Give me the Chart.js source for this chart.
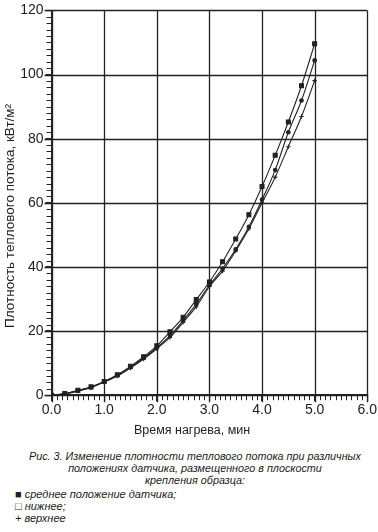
<!DOCTYPE html>
<html>
<head>
<meta charset="utf-8">
<script src="https://cdn.jsdelivr.net/npm/chart.js@4.4.0/dist/chart.umd.min.js"></script>
<style>
  body { margin: 0; background: #fff; font-family: "Liberation Sans", Arial, sans-serif; color: #222; }
  #wrap { position: relative; width: 378px; height: 440px; }
  #caption { position: absolute; left: 6px; top: 450px; width: 378px; text-align: center; font-style: italic; font-size: 10.8px; line-height: 12px; }
  #legend { position: absolute; left: 15px; top: 488px; font-style: italic; font-size: 11px; line-height: 12px; }
</style>
</head>
<body>
<div id="wrap"><canvas id="heatChart"></canvas></div>
<div id="caption">Рис. 3. Изменение плотности теплового потока при различных<br>положениях датчика, размещенного в плоскости<br>крепления образца:</div>
<div id="legend">&#9632; среднее положение датчика;<br>&#9633; нижнее;<br>+ верхнее</div>
<script>
// время нагрева, мин
var times = [0, 0.25, 0.5, 0.75, 1.0, 1.25, 1.5, 1.75, 2.0, 2.25, 2.5, 2.75, 3.0, 3.25, 3.5, 3.75, 4.0, 4.25, 4.5, 4.75, 5.0];
// плотность теплового потока, кВт/м2
var nizhnee  = [0, 0.5, 1.5, 2.6, 4.3, 6.4, 9.0, 12.0, 15.4, 19.8, 24.3, 29.8, 35.3, 41.6, 48.7, 56.3, 65.1, 74.8, 85.2, 96.5, 109.6];
var srednee  = [0, 0.4, 1.4, 2.5, 4.2, 6.2, 8.7, 11.6, 14.8, 18.6, 23.3, 28.4, 34.3, 39.5, 45.5, 52.5, 61.0, 70.2, 82.0, 91.9, 104.4];
var verhnee  = [0, 0.4, 1.3, 2.4, 4.1, 6.0, 8.5, 11.3, 14.5, 18.0, 22.7, 27.6, 33.9, 38.7, 45.0, 51.9, 60.0, 68.0, 77.5, 86.9, 98.1];

var xStep = 1, xMinor = 0.1;
var yStep = 20, yMinor = 2;

function pts(ys) {
  return times.map(function (t, i) { return { x: t, y: ys[i] }; });
}

var ink = '#222';

// сетка и мелкие засечки (шаг 0.1 мин и 2 кВт/м2)
var gridAndTicks = {
  id: 'gridAndTicks',
  beforeDatasetsDraw: function (chart) {
    var c = chart.ctx, xs = chart.scales.x, ys = chart.scales.y;
    var len = 5, v, p;
    c.save();
    c.strokeStyle = ink;
    c.lineWidth = 1.3;
    c.beginPath();
    for (v = xs.min; v <= xs.max + 1e-9; v += xStep) {
      p = Math.round(xs.getPixelForValue(v)) + 0.5;
      c.moveTo(p, ys.top);
      c.lineTo(p, ys.bottom + 7);
    }
    for (v = ys.min; v <= ys.max + 1e-9; v += yStep) {
      p = Math.round(ys.getPixelForValue(v)) + 0.5;
      c.moveTo(xs.left - 7, p);
      c.lineTo(xs.right, p);
    }
    c.stroke();
    c.lineWidth = 1;
    c.beginPath();
    for (v = xs.min; v <= xs.max + 1e-9; v += xMinor) {
      p = Math.round(xs.getPixelForValue(v)) + 0.5;
      c.moveTo(p, ys.bottom);
      c.lineTo(p, ys.bottom + len);
    }
    for (v = ys.min; v <= ys.max + 1e-9; v += yMinor) {
      p = Math.round(ys.getPixelForValue(v)) + 0.5;
      c.moveTo(xs.left - len, p);
      c.lineTo(xs.left, p);
    }
    c.stroke();
    c.restore();
  }
};

var ctx = document.getElementById('heatChart');
var heatChart = new Chart(ctx, {
  type: 'line',
  data: {
    datasets: [
      {
        label: 'нижнее',
        data: pts(nizhnee),
        borderColor: ink, backgroundColor: ink,
        borderWidth: 1.1, pointStyle: 'rect', pointRadius: 2.8,
        cubicInterpolationMode: 'monotone'
      },
      {
        label: 'среднее положение датчика',
        data: pts(srednee),
        borderColor: ink, backgroundColor: ink,
        borderWidth: 1.1, pointStyle: 'circle', pointRadius: 1.8,
        cubicInterpolationMode: 'monotone'
      },
      {
        label: 'верхнее',
        data: pts(verhnee),
        borderColor: ink, backgroundColor: ink,
        borderWidth: 1.1, pointStyle: 'cross', pointRadius: 2.2,
        cubicInterpolationMode: 'monotone'
      }
    ]
  },
  options: {
    responsive: true,
    maintainAspectRatio: false,
    animation: false,
    layout: { padding: { top: 6, right: 0, left: 2, bottom: 2 } },
    plugins: { legend: { display: false }, tooltip: { enabled: false } },
    scales: {
      x: {
        type: 'linear', min: 0, max: 6,
        ticks: {
          stepSize: xStep, maxRotation: 0,
          color: ink, font: { size: 14, family: 'Liberation Sans' }, padding: 1,
          callback: function (v) { return v.toFixed(1); }
        },
        grid: { drawOnChartArea: false, color: ink, lineWidth: 1.2, tickLength: 6 },
        border: { color: ink, width: 1.5 },
        title: { display: true, text: 'Время нагрева, мин\u00A0\u00A0\u00A0\u00A0\u00A0\u00A0\u00A0\u00A0\u00A0\u00A0', color: ink, font: { size: 12.5, family: 'Liberation Sans' }, padding: { top: 3, bottom: 0 } }
      },
      y: {
        min: 0, max: 120,
        ticks: {
          stepSize: yStep,
          color: ink, font: { size: 14, family: 'Liberation Sans' }, padding: 2
        },
        grid: { drawOnChartArea: false, color: ink, lineWidth: 1.2, tickLength: 6 },
        border: { color: ink, width: 1.5 },
        title: { display: true, text: 'Плотность теплового потока, кВт/м²\u00A0\u00A0\u00A0\u00A0\u00A0\u00A0\u00A0', color: ink, font: { size: 13.5, family: 'Liberation Sans' }, padding: 0 }
      }
    }
  },
  plugins: [gridAndTicks]
});
</script>
</body>
</html>
